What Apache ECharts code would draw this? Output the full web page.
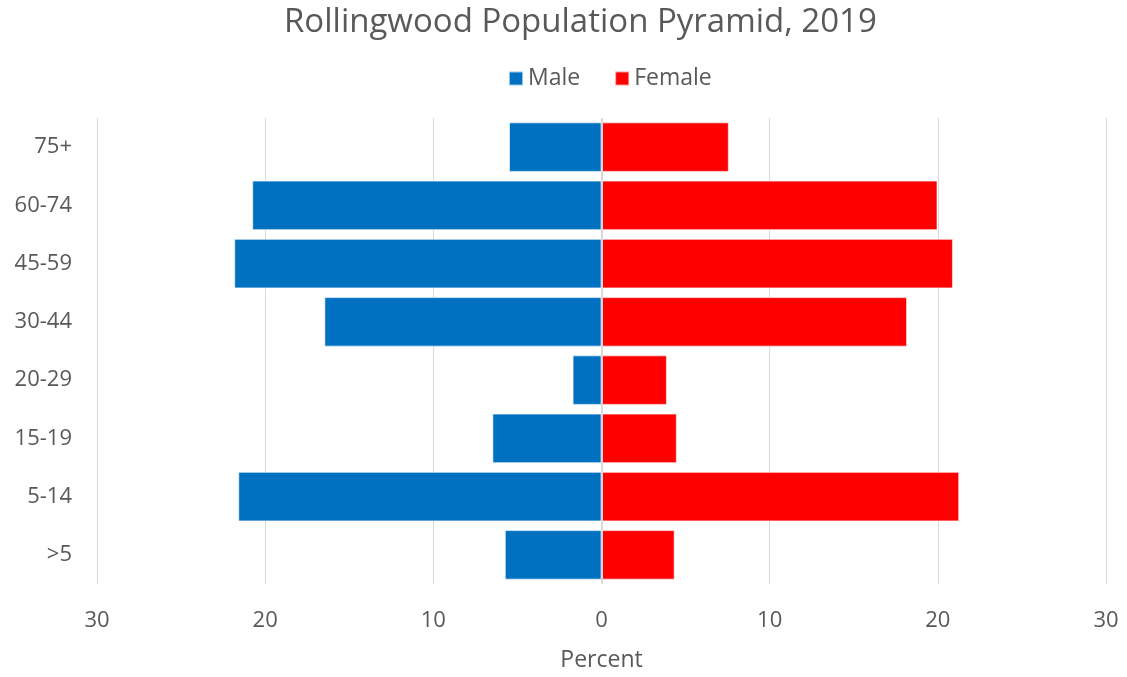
<!DOCTYPE html>
<html>
<head>
<meta charset="utf-8">
<script src="https://cdn.jsdelivr.net/npm/echarts@6/dist/echarts.min.js"></script>
<style>html,body{margin:0;padding:0;background:#fff;}#c{width:1127px;height:677px;}</style>
</head>
<body>
<div id="c"></div>
<script>
var categories = ['>5', '5-14', '15-19', '20-29', '30-44', '45-59', '60-74', '75+'];
var maleValues = [5.75, 21.6, 6.49, 1.72, 16.48, 21.84, 20.77, 5.5];
var femaleValues = [4.35, 21.27, 4.48, 3.89, 18.17, 20.9, 19.98, 7.57];
var xTicks = [-30, -20, -10, 0, 10, 20, 30];

var font = '"Open Sans", "Noto Sans", sans-serif';
var textColor = '#595959';
var chart = echarts.init(document.getElementById('c'));
chart.setOption({
  animation: false,
  backgroundColor: '#fff',
  title: {
    text: 'Rollingwood Population Pyramid, 2019',
    left: 284, top: 6, padding: 0,
    textStyle: { fontFamily: font, fontSize: 33, fontWeight: 'normal', color: textColor }
  },
  legend: {
    data: ['Male', 'Female'],
    left: 508, top: 67, padding: 0,
    icon: 'rect', itemWidth: 14, itemHeight: 14, itemGap: 34,
    textStyle: { fontFamily: font, fontSize: 23, color: textColor }
  },
  grid: { left: 97, right: 21, top: 118, bottom: 89, containLabel: false },
  xAxis: {
    type: 'value',
    min: xTicks[0], max: xTicks[xTicks.length - 1], interval: 10,
    name: 'Percent', nameLocation: 'middle', nameGap: 65,
    nameTextStyle: { fontFamily: font, fontSize: 23, color: textColor },
    axisLine: { show: false }, axisTick: { show: false },
    axisLabel: {
      margin: 26, fontFamily: font, fontSize: 22, color: textColor,
      formatter: function (v) { return Math.abs(v); }
    },
    splitLine: { show: true, lineStyle: { color: '#d9d9d9', width: 1 } }
  },
  yAxis: {
    type: 'category',
    data: categories,
    axisLine: { show: false }, axisTick: { show: false },
    axisLabel: { margin: 25, fontFamily: font, fontSize: 22, color: textColor },
    splitLine: { show: false }
  },
  series: [
    {
      name: 'Male', type: 'bar', stack: 'total',
      data: maleValues.map(function (v) { return -v; }),
      barCategoryGap: '15%',
      itemStyle: { color: '#0070C0', borderColor: 'rgba(255,255,255,0.6)', borderWidth: 1 }
    },
    {
      name: 'Female', type: 'bar', stack: 'total',
      data: femaleValues,
      barCategoryGap: '15%',
      itemStyle: { color: '#FF0000', borderColor: 'rgba(255,255,255,0.6)', borderWidth: 1 },
      markLine: {
        silent: true, symbol: 'none', label: { show: false },
        lineStyle: { color: '#d9d9d9', width: 2, type: 'solid' },
        data: [{ xAxis: 0 }]
      }
    }
  ]
});
</script>
</body>
</html>
